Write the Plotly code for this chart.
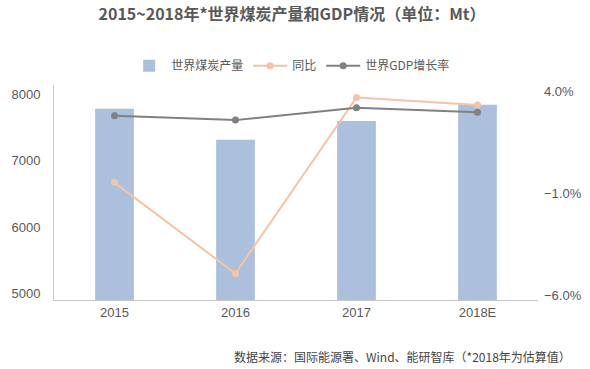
import plotly.graph_objects as go

categories = ["2015", "2016", "2017", "2018E"]
coal_output = [7785, 7320, 7600, 7845]          # Mt
yoy_change = [-0.45, -4.9, 3.72, 3.35]           # %
gdp_growth = [2.83, 2.61, 3.22, 2.99]            # %
left_ticks = [5000, 6000, 7000, 8000]
right_ticks = [-6.0, -1.0, 4.0]
right_tick_labels = ["\u22126.0%", "\u22121.0%", "4.0%"]

FONT = "Liberation Sans, Arial, Noto Sans CJK SC, sans-serif"
CJK = "Noto Sans CJK SC, Liberation Sans, sans-serif"
TXT = "#595959"

fig = go.Figure()
fig.add_trace(go.Bar(
    x=categories, y=coal_output, name="世界煤炭产量",
    marker=dict(color="#abc0dc", line=dict(width=0)), width=0.32,
))
fig.add_trace(go.Scatter(
    x=categories, y=yoy_change, name="同比", yaxis="y2",
    mode="lines+markers",
    line=dict(color="#f5c3a5", width=2),
    marker=dict(color="#f5c3a5", size=7),
))
fig.add_trace(go.Scatter(
    x=categories, y=gdp_growth, name="世界GDP增长率", yaxis="y2",
    mode="lines+markers",
    line=dict(color="#808080", width=2),
    marker=dict(color="#808080", size=7),
))

fig.update_layout(
    width=590, height=369,
    margin=dict(l=54, r=52, t=85, b=69, autoexpand=False),
    paper_bgcolor="white", plot_bgcolor="white",
    font=dict(family=FONT, size=13, color=TXT),
    title=dict(
        text="<b>2015~2018年*世界煤炭产量和GDP情况（单位：Mt）</b>",
        x=0.495, xanchor="center", y=0.96, yanchor="middle",
        font=dict(family=CJK, size=16, color="#595959"),
    ),
    showlegend=True,
    legend=dict(
        orientation="h", x=0.49, xanchor="center", y=1.09, yanchor="middle",
        font=dict(family=CJK, size=12, color=TXT),
        itemwidth=34, traceorder="normal",
    ),
    xaxis=dict(
        type="category", range=[-0.5, 3.5],
        showline=True, linecolor="#c8c8c8", linewidth=1,
        ticks="", showgrid=False,
        tickfont=dict(size=13, color=TXT),
    ),
    yaxis=dict(
        range=[4905, 8143], tickvals=left_ticks,
        showline=True, linecolor="#c8c8c8", linewidth=1,
        showgrid=False, zeroline=False, ticks="",
        ticklabelstandoff=10,
        tickfont=dict(size=13, color=TXT),
    ),
    yaxis2=dict(
        overlaying="y", side="right",
        range=[-6.2, 4.33], tickvals=right_ticks, ticktext=right_tick_labels,
        showline=False, showgrid=False, zeroline=False, ticks="",
        ticklabelstandoff=5,
        tickfont=dict(size=13, color=TXT),
    ),
    bargap=0.68,
)

fig.add_annotation(
    text="数据来源：国际能源署、Wind、能研智库（*2018年为估算值）",
    xref="paper", yref="paper", x=1.072, y=-0.265,
    xanchor="right", yanchor="middle", showarrow=False,
    font=dict(family=CJK, size=12, color="#444444"),
)

fig.write_html("out.html", config={"displayModeBar": False},
               post_script="document.body.style.margin='0px';")
